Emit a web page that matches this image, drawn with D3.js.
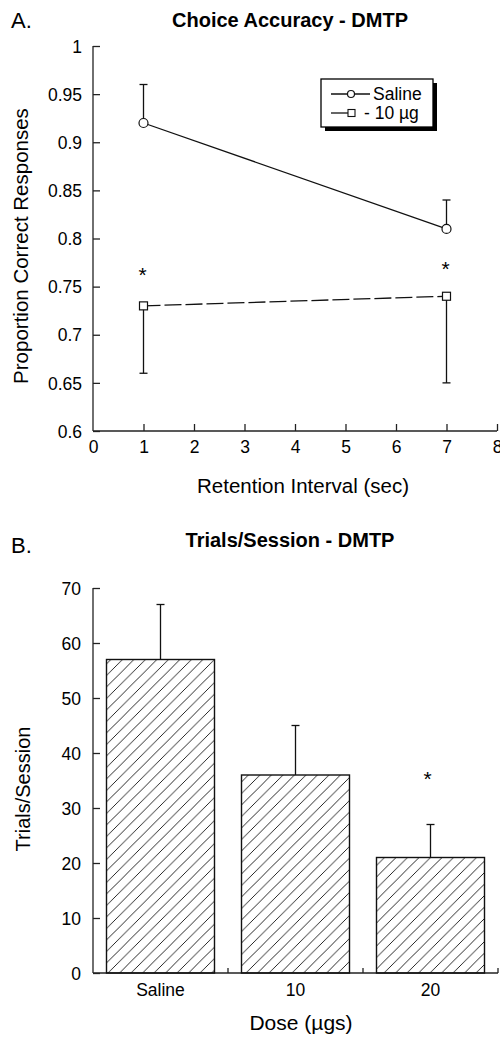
<!DOCTYPE html>
<html>
<head>
<meta charset="utf-8">
<script src="https://cdn.jsdelivr.net/npm/d3@7"></script>
<style>
  body { margin: 0; background: #fff; }
  svg { font-family: "Liberation Sans", Arial, sans-serif; }
</style>
</head>
<body>
<svg id="chart" width="500" height="1039"></svg>
<script>
// panel A data
const intervals = [1, 7];
const salineMean = [0.92, 0.81];
const salineErr = [0.04, 0.03];
const doseMean = [0.73, 0.74];
const doseErr = [0.07, 0.09];
const starsA = [0.766, 0.772];
const yTicksA = [0.6, 0.65, 0.7, 0.75, 0.8, 0.85, 0.9, 0.95, 1];
const xTicksA = [0, 1, 2, 3, 4, 5, 6, 7, 8];

// panel B data
const doses = ["Saline", "10", "20"];
const trials = [57, 36, 21];
const trialsErr = [10, 9, 6];
const starB = [null, null, 36];
const yTicksB = [0, 10, 20, 30, 40, 50, 60, 70];

const FONT = "Liberation Sans, Arial, sans-serif";
const svg = d3.select("#chart");

// ---------- Panel A ----------
const x = d3.scaleLinear().domain([0, 8]).range([93, 497]);
const y = d3.scaleLinear().domain([0.6, 1]).range([431, 46]);

const gA = svg.append("g");

gA.append("text").attr("x", 11).attr("y", 28).attr("font-size", 22).text("A.");
gA.append("text").attr("x", 290).attr("y", 27).attr("text-anchor", "middle")
  .attr("font-size", 20).attr("font-weight", "bold").text("Choice Accuracy - DMTP");

const yAxisA = gA.append("g").attr("transform", "translate(93,0)")
  .call(d3.axisRight(y).tickValues(yTicksA).tickSize(7).tickFormat(d3.format("")));
yAxisA.selectAll("text").attr("x", -11).attr("dy", "0.35em").attr("text-anchor", "end")
  .attr("font-size", 17.5).attr("font-family", FONT);
yAxisA.select(".domain").attr("d", "M0,46V431");

const xAxisA = gA.append("g").attr("transform", "translate(0,431)")
  .call(d3.axisTop(x).tickValues(xTicksA).tickSize(7).tickFormat(d3.format("d")));
xAxisA.selectAll("text").attr("y", 22).attr("font-size", 17.5).attr("font-family", FONT);
xAxisA.select(".domain").attr("d", "M93,0H497");
xAxisA.selectAll(".tick").filter(d => d === 0).select("line").remove();
gA.selectAll(".domain, .tick line").attr("stroke", "#222").attr("stroke-width", 1.3);

gA.append("text").attr("transform", "translate(28,246) rotate(-90)")
  .attr("text-anchor", "middle").attr("font-size", 20.5).text("Proportion Correct Responses");
gA.append("text").attr("x", 303).attr("y", 493).attr("text-anchor", "middle")
  .attr("font-size", 20.5).text("Retention Interval (sec)");

// error bars
const capW = 4;
function errBar(g, xs, means, errs, dir) {
  xs.forEach((v, i) => {
    const end = means[i] + dir * errs[i];
    g.append("line").attr("x1", x(v)).attr("x2", x(v)).attr("y1", y(means[i])).attr("y2", y(end))
      .attr("stroke", "#111").attr("stroke-width", 1.3);
    g.append("line").attr("x1", x(v) - capW).attr("x2", x(v) + capW).attr("y1", y(end)).attr("y2", y(end))
      .attr("stroke", "#111").attr("stroke-width", 1.3);
  });
}
errBar(gA, intervals, salineMean, salineErr, 1);
errBar(gA, intervals, doseMean, doseErr, -1);

const line = d3.line().x(d => x(d[0])).y(d => y(d[1]));
gA.append("path").attr("d", line(intervals.map((v, i) => [v, salineMean[i]])))
  .attr("fill", "none").attr("stroke", "#111").attr("stroke-width", 1.3);
gA.append("path").attr("d", line(intervals.map((v, i) => [v, doseMean[i]])))
  .attr("fill", "none").attr("stroke", "#111").attr("stroke-width", 1.3)
  .attr("stroke-dasharray", "17,4");

gA.selectAll("circle.pt").data(intervals).join("circle").attr("class", "pt")
  .attr("cx", d => x(d)).attr("cy", (d, i) => y(salineMean[i])).attr("r", 4.5)
  .attr("fill", "#fff").attr("stroke", "#111").attr("stroke-width", 1.2);
gA.selectAll("rect.pt").data(intervals).join("rect").attr("class", "pt")
  .attr("x", d => x(d) - 4).attr("y", (d, i) => y(doseMean[i]) - 4).attr("width", 8).attr("height", 8)
  .attr("fill", "#fff").attr("stroke", "#111").attr("stroke-width", 1.2);

gA.selectAll("text.star").data(intervals).join("text").attr("class", "star")
  .attr("x", d => x(d) - 1).attr("y", (d, i) => y(starsA[i]) + 11).attr("text-anchor", "middle")
  .attr("font-size", 21).text("*");

// legend
const lg = gA.append("g");
lg.append("rect").attr("x", 325).attr("y", 83).attr("width", 112).attr("height", 48).attr("fill", "#000");
lg.append("rect").attr("x", 321).attr("y", 79).attr("width", 112).attr("height", 48)
  .attr("fill", "#fff").attr("stroke", "#000").attr("stroke-width", 1.3);
lg.append("line").attr("x1", 331).attr("x2", 370).attr("y1", 94).attr("y2", 94).attr("stroke", "#111").attr("stroke-width", 1.3);
lg.append("circle").attr("cx", 351).attr("cy", 94).attr("r", 3.5).attr("fill", "#fff").attr("stroke", "#111").attr("stroke-width", 1.2);
lg.append("text").attr("x", 373).attr("y", 100).attr("font-size", 17.5).text("Saline");
lg.append("line").attr("x1", 331).attr("x2", 350).attr("y1", 113).attr("y2", 113).attr("stroke", "#111").attr("stroke-width", 1.3);
lg.append("rect").attr("x", 348).attr("y", 109.5).attr("width", 7).attr("height", 7).attr("fill", "#fff").attr("stroke", "#111").attr("stroke-width", 1.1);
lg.append("text").attr("x", 364).attr("y", 119).attr("font-size", 17.5).text("- 10 µg");

// ---------- Panel B ----------
const xb = d3.scaleBand().domain(doses).range([93, 498]).paddingInner(0.2).paddingOuter(0.1);
const yb = d3.scaleLinear().domain([0, 70]).range([973, 588]);

const gB = svg.append("g");
gB.append("text").attr("x", 11).attr("y", 553).attr("font-size", 22).text("B.");
gB.append("text").attr("x", 290).attr("y", 547).attr("text-anchor", "middle")
  .attr("font-size", 20).attr("font-weight", "bold").text("Trials/Session - DMTP");

const defs = svg.append("defs");
defs.append("pattern").attr("id", "hatch").attr("patternUnits", "userSpaceOnUse")
  .attr("width", 11.5).attr("height", 11.5)
  .append("path").attr("d", "M-3,3L3,-3M0,11.5L11.5,0M8.5,14.5L14.5,8.5")
  .attr("stroke", "#111").attr("stroke-width", 0.9);

const yAxisB = gB.append("g").attr("transform", "translate(93,0)")
  .call(d3.axisRight(yb).tickValues(yTicksB).tickSize(7));
yAxisB.selectAll("text").attr("x", -12).attr("dy", "0.35em").attr("text-anchor", "end")
  .attr("font-size", 17.5).attr("font-family", FONT);
yAxisB.select(".domain").attr("d", "M0,588V973");

// x axis baseline with small ticks between bars
const xAxisB = gB.append("g");
xAxisB.append("line").attr("x1", 93).attr("x2", 498).attr("y1", 973).attr("y2", 973);
const sepTicks = doses.slice(1).map(d => xb(d) - xb.step() * xb.paddingInner() / 2).concat([498]);
xAxisB.selectAll("line.sep").data(sepTicks).join("line").attr("class", "sep")
  .attr("x1", d => d).attr("x2", d => d).attr("y1", 973).attr("y2", 968);
xAxisB.selectAll("line").attr("stroke", "#222").attr("stroke-width", 1.3);
gB.selectAll(".domain, .tick line").attr("stroke", "#222").attr("stroke-width", 1.3);

gB.selectAll("text.cat").data(doses).join("text").attr("class", "cat")
  .attr("x", d => xb(d) + xb.bandwidth() / 2).attr("y", 996).attr("text-anchor", "middle")
  .attr("font-size", 17.5).text(d => d);

// error bars (upward only)
doses.forEach((d, i) => {
  const cx = xb(d) + xb.bandwidth() / 2;
  gB.append("line").attr("x1", cx).attr("x2", cx).attr("y1", yb(trials[i])).attr("y2", yb(trials[i] + trialsErr[i]))
    .attr("stroke", "#111").attr("stroke-width", 1.3);
  gB.append("line").attr("x1", cx - capW).attr("x2", cx + capW)
    .attr("y1", yb(trials[i] + trialsErr[i])).attr("y2", yb(trials[i] + trialsErr[i]))
    .attr("stroke", "#111").attr("stroke-width", 1.3);
});

gB.selectAll("rect.bar").data(doses).join("rect").attr("class", "bar")
  .attr("x", d => xb(d)).attr("y", (d, i) => yb(trials[i]))
  .attr("width", xb.bandwidth()).attr("height", (d, i) => yb(0) - yb(trials[i]))
  .attr("fill", "url(#hatch)").attr("stroke", "#111").attr("stroke-width", 1.4);

gB.selectAll("text.star").data(doses.filter((d, i) => starB[i] !== null)).join("text").attr("class", "star")
  .attr("x", d => xb(d) + xb.bandwidth() / 2 - 3).attr("y", d => yb(starB[doses.indexOf(d)]) + 11)
  .attr("text-anchor", "middle").attr("font-size", 21).text("*");

gB.append("text").attr("transform", "translate(30,789) rotate(-90)")
  .attr("text-anchor", "middle").attr("font-size", 20).text("Trials/Session");
gB.append("text").attr("x", 301).attr("y", 1030).attr("text-anchor", "middle")
  .attr("font-size", 21).text("Dose (µgs)");
</script>
</body>
</html>
